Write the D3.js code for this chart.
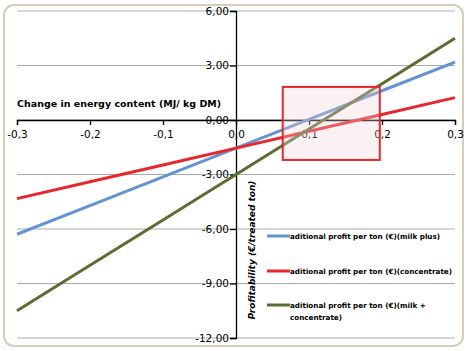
<!DOCTYPE html>
<html>
<head>
<meta charset="utf-8">
<script src="https://cdn.jsdelivr.net/npm/d3@7"></script>
<style>
  body { margin: 0; background: #fff; }
  svg { display: block; font-family: "DejaVu Sans", Verdana, sans-serif; }
</style>
</head>
<body>
<div id="chart"></div>
<script>
// energy change steps (MJ / kg DM)
const energySteps = [-0.3, -0.2, -0.1, 0, 0.1, 0.2, 0.3];
const yTicks = [-12, -9, -6, -3, 0, 3, 6];

// additional profit per treated ton
const milkPlus = [-6.29, -4.71, -3.13, -1.55, 0.03, 1.61, 3.19];
const concentrate = [-4.33, -3.40, -2.48, -1.55, -0.62, 0.30, 1.23];
const milkConcentrate = [-10.5, -8.0, -5.5, -3.0, -0.5, 2.0, 4.5];

const seriesNames = [
  "aditional profit per ton (\u20ac)(milk plus)",
  "aditional profit per ton (\u20ac)(concentrate)",
  "aditional profit per ton (\u20ac)(milk + concentrate)"
];
const seriesColors = ["#6494d0", "#e8262c", "#5a6e33"];

// highlighted break-even zone
const zoneX = [0.064, 0.197];
const zoneY = [-2.2, 1.82];

const width = 469, height = 351;
const margin = { top: 11, right: 14, bottom: 13, left: 17 };

const svg = d3.select("#chart").append("svg")
  .attr("width", width)
  .attr("height", height);

// outer frame
svg.append("rect")
  .attr("x", 4).attr("y", 5)
  .attr("width", 459).attr("height", 341)
  .attr("rx", 10).attr("ry", 10)
  .attr("fill", "#fff")
  .attr("stroke", "#d9ccb6")
  .attr("stroke-width", 2);

const x = d3.scaleLinear().domain([-0.3, 0.3]).range([margin.left, width - margin.right]);
const y = d3.scaleLinear().domain([-12, 6]).range([height - margin.bottom, margin.top]);

const fmtX = d => d3.format(".1f")(d).replace(".", ",").replace("\u2212", "-");
const fmtY = d => d3.format(".2f")(d).replace(".", ",").replace("\u2212", "-");

// gridlines
svg.append("g")
  .selectAll("line")
  .data(yTicks)
  .join("line")
  .attr("x1", x(-0.3)).attr("x2", x(0.3))
  .attr("y1", d => y(d)).attr("y2", d => y(d))
  .attr("stroke", "#ababab")
  .attr("stroke-width", 1);

// x axis through y = 0
const gx = svg.append("g")
  .attr("transform", `translate(0,${y(0)})`)
  .call(d3.axisBottom(x).tickValues(energySteps).tickFormat(fmtX).tickSizeOuter(0).tickSize(5));

// y axis through x = 0
const gy = svg.append("g")
  .attr("transform", `translate(${x(0)},0)`)
  .call(d3.axisLeft(y).tickValues(yTicks).tickFormat(fmtY).tickSizeOuter(0).tickSize(6));

[gx, gy].forEach(g => {
  g.select(".domain").attr("stroke", "#000").attr("stroke-width", 1.3);
  g.selectAll(".tick line").attr("stroke", "#000").attr("stroke-width", 1.3);
  g.selectAll(".tick text").attr("fill", "#000").attr("font-size", 10.5)
    .attr("font-family", "DejaVu Sans, Verdana, sans-serif");
});
gx.selectAll(".tick text").attr("dy", "0.95em");
gy.selectAll(".tick text").attr("x", -7);

// series lines
const allSeries = [milkPlus, concentrate, milkConcentrate];
const line = d3.line()
  .x((d, i) => x(energySteps[i]))
  .y(d => y(d));

svg.append("g")
  .selectAll("path")
  .data(allSeries)
  .join("path")
  .attr("d", line)
  .attr("fill", "none")
  .attr("stroke", (d, i) => seriesColors[i])
  .attr("stroke-width", 3);

// highlighted zone on top
svg.append("rect")
  .attr("x", x(zoneX[0]))
  .attr("y", y(zoneY[1]))
  .attr("width", x(zoneX[1]) - x(zoneX[0]))
  .attr("height", y(zoneY[0]) - y(zoneY[1]))
  .attr("fill", "rgba(245,210,216,0.32)")
  .attr("stroke", "#e8262c")
  .attr("stroke-width", 2);

// axis titles
svg.append("text")
  .attr("x", 17).attr("y", 107)
  .attr("font-size", 9.5)
  .attr("font-weight", "bold")
  .attr("fill", "#000")
  .text("Change in energy content (MJ/ kg DM)");

svg.append("text")
  .attr("transform", `translate(255,250) rotate(-90)`)
  .attr("text-anchor", "middle")
  .attr("font-size", 9)
  .attr("font-style", "italic")
  .attr("font-weight", "bold")
  .attr("fill", "#000")
  .text("Profitability (\u20ac/treated ton)");

// legend
const legendY = [236, 271, 305];
const legend = svg.append("g");
seriesNames.forEach((name, i) => {
  legend.append("line")
    .attr("x1", 267).attr("x2", 290)
    .attr("y1", legendY[i]).attr("y2", legendY[i])
    .attr("stroke", seriesColors[i])
    .attr("stroke-width", 3);
  const t = legend.append("text")
    .attr("x", 290).attr("y", legendY[i] + 3)
    .attr("font-size", 7.2)
    .attr("font-weight", "bold")
    .attr("fill", "#000");
  if (i === 2) {
    t.append("tspan").attr("x", 290).text("aditional profit per ton (\u20ac)(milk +");
    t.append("tspan").attr("x", 290).attr("dy", 12).text("concentrate)");
  } else {
    t.text(name);
  }
});
</script>
</body>
</html>
